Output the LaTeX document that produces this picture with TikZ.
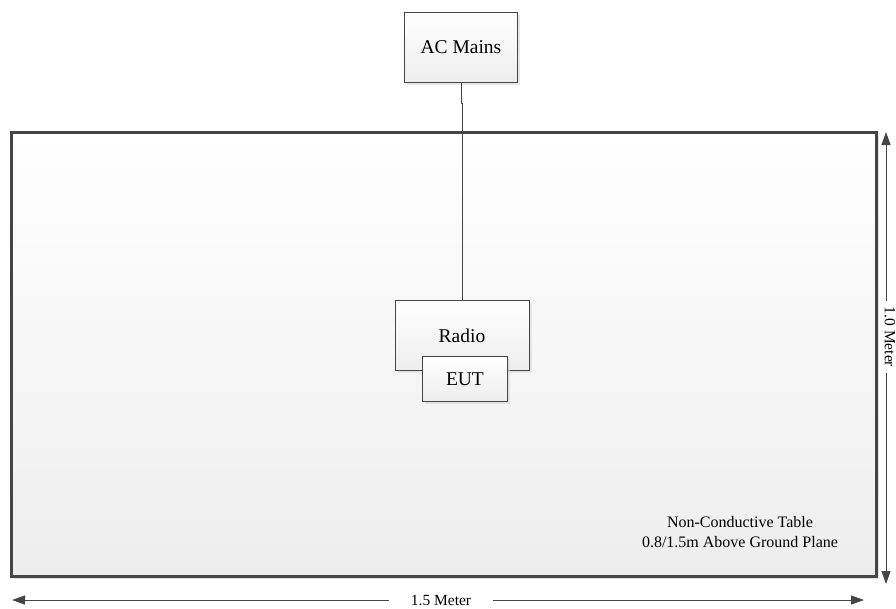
\documentclass[tikz,border=0pt]{standalone}
\usepackage{fontspec}
\setmainfont{Liberation Serif}
\usetikzlibrary{arrows.meta,shadows}
\definecolor{edge}{HTML}{454545}
\tikzset{
  devbox/.style={draw=edge, line width=0.9pt, top color=white, bottom color=black!7,
    drop shadow={shadow xshift=3pt, shadow yshift=-3pt, fill=black!15, opacity=0.6},
    font=\fontsize{19.5}{22}\selectfont, inner sep=0pt},
  wire/.style={draw=edge, line width=0.9pt},
  dimtip/.style={-{Triangle[length=13pt,width=9pt]}, draw=edge, fill=edge, line width=0.9pt},
  dimlabel/.style={font=\fontsize{15.5}{18}\selectfont},
}
\begin{document}
\begin{tikzpicture}[x=1pt,y=-1pt]
\useasboundingbox (0,0) rectangle (896,608);
% table
\fill[black!12] (14,135) rectangle (879,579);
\node[draw=edge, line width=3pt, top color=white, bottom color=black!7,
  minimum width=865pt, minimum height=444pt, anchor=north west, inner sep=0pt] (table) at (10,131) {};
\node[font=\fontsize{16}{20}\selectfont, align=center] (tlabel) at (740,532)
  {Non-Conductive Table\\0.8/1.5m Above Ground Plane};
% boxes
\node[devbox, minimum width=113pt, minimum height=70pt, anchor=north west] (ac) at (404,12) {AC Mains};
\node[devbox, minimum width=134pt, minimum height=70pt, anchor=north west] (radio) at (395,300) {};
\node[font=\fontsize{19.5}{22}\selectfont, inner sep=0pt] (radiotxt) at (462,336) {Radio};
\node[devbox, minimum width=85pt, minimum height=45pt, anchor=north west] (eut) at (422,356) {EUT};
% connector
\draw[wire] (ac.south) -- ++(0,21) -| (radio.north);
% horizontal dimension
\coordinate (hl) at (12,600);
\coordinate (hr) at (864,600);
\node[dimlabel, inner xsep=22pt, inner ysep=0pt] (hlab) at (441,600) {1.5 Meter};
\draw[dimtip] (hlab.west) -- (hl);
\draw[dimtip] (hlab.east) -- (hr);
% vertical dimension
\coordinate (vt) at (886,132);
\coordinate (vb) at (886,584);
\node[dimlabel, rotate=-90, inner xsep=6pt, inner ysep=0pt] (vlab) at (890,337) {1.0 Meter};
\draw[dimtip] (vt |- vlab.west) -- (vt);
\draw[dimtip] (vt |- vlab.east) -- (vb);
\end{tikzpicture}
\end{document}
